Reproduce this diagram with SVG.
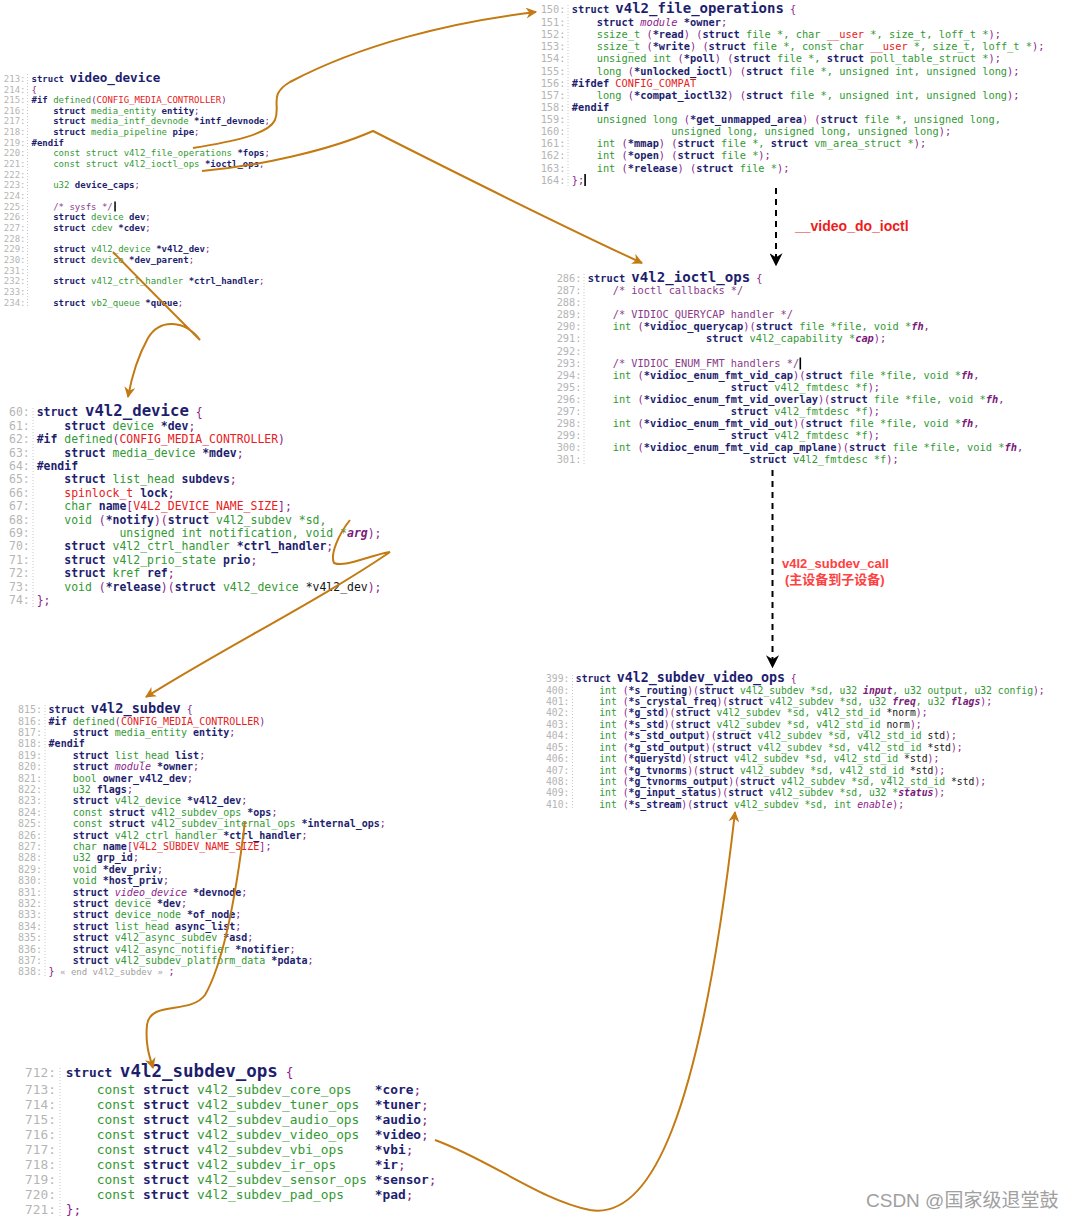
<svg xmlns="http://www.w3.org/2000/svg" width="1072" height="1219" viewBox="0 0 1072 1219">
<style>
text{font-family:"DejaVu Sans Mono",monospace}
.code{fill:#1e1e6e;font-weight:bold}
.ln{fill:#b5b5b5;font-weight:normal;text-anchor:end}
.g{fill:#339933;font-weight:normal}
.p{fill:#8b1d8b;font-weight:normal}
.c{fill:#8b3a8b;font-weight:normal}
.r{fill:#e8201c;font-weight:normal}
.i{fill:#8b1d8b;font-style:italic;font-weight:normal}
.ib{fill:#7a1a7a;font-style:italic;font-weight:bold}
.n{fill:#151515;font-weight:normal}
.x{fill:#a0a0a0;font-weight:normal;font-size:9px}
.f1{font-size:9px}.f2{font-size:10.34px}.f3{font-size:10.33px}.f4{font-size:11.46px}.f5{font-size:10px}.f6{font-size:9.74px}.f7{font-size:12.84px}
.vl{stroke:#c8c8c8;stroke-width:1;stroke-dasharray:1,2}
.conn{fill:none;stroke:#c47a12;stroke-width:2}
.dash{fill:none;stroke:#000;stroke-width:2;stroke-dasharray:6,5}
.lbl{font-family:"Liberation Sans","Noto Sans CJK SC",sans-serif;font-weight:bold}
.cur{fill:#000}
</style>
<defs>
<marker id="ao" viewBox="0 0 10 10" refX="9" refY="5" markerWidth="11" markerHeight="11" markerUnits="userSpaceOnUse" orient="auto"><path d="M0,0 L10,5 L0,10 L3,5z" fill="#c47a12"/></marker>
<marker id="ab" viewBox="0 0 10 10" refX="9" refY="5" markerWidth="13" markerHeight="13" markerUnits="userSpaceOnUse" orient="auto"><path d="M0,0 L10,5 L0,10 L3,5z" fill="#000"/></marker>
</defs>
<rect width="1072" height="1219" fill="#fff"/>

<g id="video_device">
<line class="vl" x1="27.5" y1="74" x2="27.5" y2="308"/>
<text class="ln f1"><tspan x="25.5" y="81.5">213:</tspan><tspan x="25.5" y="92.5">214:</tspan><tspan x="25.5" y="103.15">215:</tspan><tspan x="25.5" y="113.8">216:</tspan><tspan x="25.5" y="124.45">217:</tspan><tspan x="25.5" y="135.1">218:</tspan><tspan x="25.5" y="145.75">219:</tspan><tspan x="25.5" y="156.4">220:</tspan><tspan x="25.5" y="167.05">221:</tspan><tspan x="25.5" y="177.7">222:</tspan><tspan x="25.5" y="188.35">223:</tspan><tspan x="25.5" y="199">224:</tspan><tspan x="25.5" y="209.65">225:</tspan><tspan x="25.5" y="220.3">226:</tspan><tspan x="25.5" y="230.95">227:</tspan><tspan x="25.5" y="241.6">228:</tspan><tspan x="25.5" y="252.25">229:</tspan><tspan x="25.5" y="262.9">230:</tspan><tspan x="25.5" y="273.55">231:</tspan><tspan x="25.5" y="284.2">232:</tspan><tspan x="25.5" y="294.85">233:</tspan><tspan x="25.5" y="305.5">234:</tspan></text>
<g class="code f1">
<text x="31.5" y="81.5" xml:space="preserve">struct <tspan style="font-size:12.6px">video_device</tspan></text>
<text x="31.5" y="92.5" xml:space="preserve"><tspan class="p">{</tspan></text>
<text x="31.5" y="103.15" xml:space="preserve">#if <tspan class="g">defined</tspan><tspan class="p">(</tspan><tspan class="r">CONFIG_MEDIA_CONTROLLER</tspan><tspan class="p">)</tspan></text>
<text x="31.5" y="113.8" xml:space="preserve">    struct <tspan class="g">media_entity</tspan> entity<tspan class="p">;</tspan></text>
<text x="31.5" y="124.45" xml:space="preserve">    struct <tspan class="g">media_intf_devnode</tspan> *intf_devnode<tspan class="p">;</tspan></text>
<text x="31.5" y="135.1" xml:space="preserve">    struct <tspan class="g">media_pipeline</tspan> pipe<tspan class="p">;</tspan></text>
<text x="31.5" y="145.75" xml:space="preserve">#endif</text>
<text x="31.5" y="156.4" xml:space="preserve">    <tspan class="g">const struct v4l2_file_operations</tspan> *fops<tspan class="p">;</tspan></text>
<text x="31.5" y="167.05" xml:space="preserve">    <tspan class="g">const struct v4l2_ioctl_ops</tspan> *ioctl_ops<tspan class="p">;</tspan></text>
<text x="31.5" y="188.35" xml:space="preserve">    <tspan class="g">u32</tspan> device_caps<tspan class="p">;</tspan></text>
<text x="31.5" y="209.65" xml:space="preserve">    <tspan class="c">/* sysfs */</tspan></text>
<text x="31.5" y="220.3" xml:space="preserve">    struct <tspan class="g">device</tspan> dev<tspan class="p">;</tspan></text>
<text x="31.5" y="230.95" xml:space="preserve">    struct <tspan class="g">cdev</tspan> *cdev<tspan class="p">;</tspan></text>
<text x="31.5" y="252.25" xml:space="preserve">    struct <tspan class="g">v4l2_device</tspan> *v4l2_dev<tspan class="p">;</tspan></text>
<text x="31.5" y="262.9" xml:space="preserve">    struct <tspan class="g">device</tspan> *dev_parent<tspan class="p">;</tspan></text>
<text x="31.5" y="284.2" xml:space="preserve">    struct <tspan class="g">v4l2_ctrl_handler</tspan> *ctrl_handler<tspan class="p">;</tspan></text>
<text x="31.5" y="305.5" xml:space="preserve">    struct <tspan class="g">vb2_queue</tspan> *queue<tspan class="p">;</tspan></text>
</g>
<rect class="cur" x="114.3" y="201.5" width="1.5" height="10"/>
</g>

<g id="v4l2_file_operations">
<line class="vl" x1="568" y1="5" x2="568" y2="186"/>
<text class="ln f2"><tspan x="565.5" y="12.5">150:</tspan><tspan x="565.5" y="26">151:</tspan><tspan x="565.5" y="38.13">152:</tspan><tspan x="565.5" y="50.26">153:</tspan><tspan x="565.5" y="62.39">154:</tspan><tspan x="565.5" y="74.52">155:</tspan><tspan x="565.5" y="86.65">156:</tspan><tspan x="565.5" y="98.78">157:</tspan><tspan x="565.5" y="110.91">158:</tspan><tspan x="565.5" y="123.04">159:</tspan><tspan x="565.5" y="135.17">160:</tspan><tspan x="565.5" y="147.3">161:</tspan><tspan x="565.5" y="159.43">162:</tspan><tspan x="565.5" y="171.56">163:</tspan><tspan x="565.5" y="183.69">164:</tspan></text>
<g class="code f2">
<text x="571.8" y="12.5" xml:space="preserve">struct <tspan style="font-size:14px">v4l2_file_operations</tspan><tspan class="p"> {</tspan></text>
<text x="571.8" y="26" xml:space="preserve">    struct <tspan class="i">module</tspan> *owner<tspan class="p">;</tspan></text>
<text x="571.8" y="38.13" xml:space="preserve">    <tspan class="g">ssize_t </tspan><tspan class="p">(</tspan>*read<tspan class="p">) (</tspan>struct<tspan class="g"> file *, char </tspan><tspan class="r">__user</tspan><tspan class="g"> *, size_t, loff_t *</tspan><tspan class="p">);</tspan></text>
<text x="571.8" y="50.26" xml:space="preserve">    <tspan class="g">ssize_t </tspan><tspan class="p">(</tspan>*write<tspan class="p">) (</tspan>struct<tspan class="g"> file *, const char </tspan><tspan class="r">__user</tspan><tspan class="g"> *, size_t, loff_t *</tspan><tspan class="p">);</tspan></text>
<text x="571.8" y="62.39" xml:space="preserve">    <tspan class="g">unsigned int </tspan><tspan class="p">(</tspan>*poll<tspan class="p">) (</tspan>struct<tspan class="g"> file *, </tspan>struct<tspan class="g"> poll_table_struct *</tspan><tspan class="p">);</tspan></text>
<text x="571.8" y="74.52" xml:space="preserve">    <tspan class="g">long </tspan><tspan class="p">(</tspan>*unlocked_ioctl<tspan class="p">) (</tspan>struct<tspan class="g"> file *, unsigned int, unsigned long</tspan><tspan class="p">);</tspan></text>
<text x="571.8" y="86.65" xml:space="preserve">#ifdef <tspan class="r">CONFIG_COMPAT</tspan></text>
<text x="571.8" y="98.78" xml:space="preserve">    <tspan class="g">long </tspan><tspan class="p">(</tspan>*compat_ioctl32<tspan class="p">) (</tspan>struct<tspan class="g"> file *, unsigned int, unsigned long</tspan><tspan class="p">);</tspan></text>
<text x="571.8" y="110.91" xml:space="preserve">#endif</text>
<text x="571.8" y="123.04" xml:space="preserve">    <tspan class="g">unsigned long </tspan><tspan class="p">(</tspan>*get_unmapped_area<tspan class="p">) (</tspan>struct<tspan class="g"> file *, unsigned long,</tspan></text>
<text x="571.8" y="135.17" xml:space="preserve"><tspan class="g">                unsigned long, unsigned long, unsigned long</tspan><tspan class="p">);</tspan></text>
<text x="571.8" y="147.3" xml:space="preserve">    <tspan class="g">int </tspan><tspan class="p">(</tspan>*mmap<tspan class="p">) (</tspan>struct<tspan class="g"> file *, </tspan>struct<tspan class="g"> vm_area_struct *</tspan><tspan class="p">);</tspan></text>
<text x="571.8" y="159.43" xml:space="preserve">    <tspan class="g">int </tspan><tspan class="p">(</tspan>*open<tspan class="p">) (</tspan>struct<tspan class="g"> file *</tspan><tspan class="p">);</tspan></text>
<text x="571.8" y="171.56" xml:space="preserve">    <tspan class="g">int </tspan><tspan class="p">(</tspan>*release<tspan class="p">) (</tspan>struct<tspan class="g"> file *</tspan><tspan class="p">);</tspan></text>
<text x="571.8" y="183.69" xml:space="preserve"><tspan class="p">};</tspan></text>
</g>
<rect class="cur" x="584.3" y="174" width="1.6" height="12"/>
</g>

<g id="v4l2_ioctl_ops">
<line class="vl" x1="584" y1="274" x2="584" y2="465"/>
<text class="ln f3"><tspan x="581.5" y="281.5">286:</tspan><tspan x="581.5" y="294.4">287:</tspan><tspan x="581.5" y="306.42">288:</tspan><tspan x="581.5" y="318.44">289:</tspan><tspan x="581.5" y="330.46">290:</tspan><tspan x="581.5" y="342.48">291:</tspan><tspan x="581.5" y="354.5">292:</tspan><tspan x="581.5" y="366.52">293:</tspan><tspan x="581.5" y="378.54">294:</tspan><tspan x="581.5" y="390.56">295:</tspan><tspan x="581.5" y="402.58">296:</tspan><tspan x="581.5" y="414.6">297:</tspan><tspan x="581.5" y="426.62">298:</tspan><tspan x="581.5" y="438.64">299:</tspan><tspan x="581.5" y="450.66">300:</tspan><tspan x="581.5" y="462.68">301:</tspan></text>
<g class="code f3">
<text x="587.8" y="281.5" xml:space="preserve">struct <tspan style="font-size:14.1px">v4l2_ioctl_ops</tspan><tspan class="p"> {</tspan></text>
<text x="587.8" y="294.4" xml:space="preserve">    <tspan class="c">/* ioctl callbacks */</tspan></text>
<text x="587.8" y="318.44" xml:space="preserve">    <tspan class="c">/* VIDIOC_QUERYCAP handler */</tspan></text>
<text x="587.8" y="330.46" xml:space="preserve">    <tspan class="g">int </tspan><tspan class="p">(</tspan>*vidioc_querycap<tspan class="p">)(</tspan>struct<tspan class="g"> file *file, void *</tspan><tspan class="ib">fh</tspan><tspan class="p">,</tspan></text>
<text x="587.8" y="342.48" xml:space="preserve">                   struct<tspan class="g"> v4l2_capability *</tspan><tspan class="ib">cap</tspan><tspan class="p">);</tspan></text>
<text x="587.8" y="366.52" xml:space="preserve">    <tspan class="c">/* VIDIOC_ENUM_FMT handlers */</tspan></text>
<text x="587.8" y="378.54" xml:space="preserve">    <tspan class="g">int </tspan><tspan class="p">(</tspan>*vidioc_enum_fmt_vid_cap<tspan class="p">)(</tspan>struct<tspan class="g"> file *file, void *</tspan><tspan class="ib">fh</tspan><tspan class="p">,</tspan></text>
<text x="587.8" y="390.56" xml:space="preserve">                       struct<tspan class="g"> v4l2_fmtdesc *f</tspan><tspan class="p">);</tspan></text>
<text x="587.8" y="402.58" xml:space="preserve">    <tspan class="g">int </tspan><tspan class="p">(</tspan>*vidioc_enum_fmt_vid_overlay<tspan class="p">)(</tspan>struct<tspan class="g"> file *file, void *</tspan><tspan class="ib">fh</tspan><tspan class="p">,</tspan></text>
<text x="587.8" y="414.6" xml:space="preserve">                       struct<tspan class="g"> v4l2_fmtdesc *f</tspan><tspan class="p">);</tspan></text>
<text x="587.8" y="426.62" xml:space="preserve">    <tspan class="g">int </tspan><tspan class="p">(</tspan>*vidioc_enum_fmt_vid_out<tspan class="p">)(</tspan>struct<tspan class="g"> file *file, void *</tspan><tspan class="ib">fh</tspan><tspan class="p">,</tspan></text>
<text x="587.8" y="438.64" xml:space="preserve">                       struct<tspan class="g"> v4l2_fmtdesc *f</tspan><tspan class="p">);</tspan></text>
<text x="587.8" y="450.66" xml:space="preserve">    <tspan class="g">int </tspan><tspan class="p">(</tspan>*vidioc_enum_fmt_vid_cap_mplane<tspan class="p">)(</tspan>struct<tspan class="g"> file *file, void *</tspan><tspan class="ib">fh</tspan><tspan class="p">,</tspan></text>
<text x="587.8" y="462.68" xml:space="preserve">                          struct<tspan class="g"> v4l2_fmtdesc *f</tspan><tspan class="p">);</tspan></text>
</g>
<rect class="cur" x="799.5" y="357.5" width="1.6" height="12"/>
</g>

<g id="v4l2_device">
<line class="vl" x1="33" y1="408" x2="33" y2="607"/>
<text class="ln f4"><tspan x="29.7" y="415.5">60:</tspan><tspan x="29.7" y="429.8">61:</tspan><tspan x="29.7" y="443.21">62:</tspan><tspan x="29.7" y="456.62">63:</tspan><tspan x="29.7" y="470.03">64:</tspan><tspan x="29.7" y="483.44">65:</tspan><tspan x="29.7" y="496.85">66:</tspan><tspan x="29.7" y="510.26">67:</tspan><tspan x="29.7" y="523.67">68:</tspan><tspan x="29.7" y="537.08">69:</tspan><tspan x="29.7" y="550.49">70:</tspan><tspan x="29.7" y="563.9">71:</tspan><tspan x="29.7" y="577.31">72:</tspan><tspan x="29.7" y="590.72">73:</tspan><tspan x="29.7" y="604.13">74:</tspan></text>
<g class="code f4">
<text x="36.7" y="415.5" xml:space="preserve">struct <tspan style="font-size:15.7px">v4l2_device</tspan><tspan class="p"> {</tspan></text>
<text x="36.7" y="429.8" xml:space="preserve">    struct <tspan class="g">device</tspan> *dev<tspan class="p">;</tspan></text>
<text x="36.7" y="443.21" xml:space="preserve">#if <tspan class="g">defined</tspan><tspan class="p">(</tspan><tspan class="r">CONFIG_MEDIA_CONTROLLER</tspan><tspan class="p">)</tspan></text>
<text x="36.7" y="456.62" xml:space="preserve">    struct <tspan class="g">media_device</tspan> *mdev<tspan class="p">;</tspan></text>
<text x="36.7" y="470.03" xml:space="preserve">#endif</text>
<text x="36.7" y="483.44" xml:space="preserve">    struct <tspan class="g">list_head</tspan> subdevs<tspan class="p">;</tspan></text>
<text x="36.7" y="496.85" xml:space="preserve">    <tspan class="r">spinlock_t</tspan> lock<tspan class="p">;</tspan></text>
<text x="36.7" y="510.26" xml:space="preserve">    <tspan class="g">char</tspan> name<tspan class="p">[</tspan><tspan class="r">V4L2_DEVICE_NAME_SIZE</tspan><tspan class="p">];</tspan></text>
<text x="36.7" y="523.67" xml:space="preserve">    <tspan class="g">void </tspan><tspan class="p">(</tspan>*notify<tspan class="p">)(</tspan>struct<tspan class="g"> v4l2_subdev *sd,</tspan></text>
<text x="36.7" y="537.08" xml:space="preserve"><tspan class="g">            unsigned int notification, void *</tspan><tspan class="ib">arg</tspan><tspan class="p">);</tspan></text>
<text x="36.7" y="550.49" xml:space="preserve">    struct <tspan class="g">v4l2_ctrl_handler</tspan> *ctrl_handler<tspan class="p">;</tspan></text>
<text x="36.7" y="563.9" xml:space="preserve">    struct <tspan class="g">v4l2_prio_state</tspan> prio<tspan class="p">;</tspan></text>
<text x="36.7" y="577.31" xml:space="preserve">    struct <tspan class="g">kref</tspan> ref<tspan class="p">;</tspan></text>
<text x="36.7" y="590.72" xml:space="preserve">    <tspan class="g">void </tspan><tspan class="p">(</tspan>*release<tspan class="p">)(</tspan>struct<tspan class="g"> v4l2_device </tspan><tspan class="n">*v4l2_dev</tspan><tspan class="p">);</tspan></text>
<text x="36.7" y="604.13" xml:space="preserve"><tspan class="p">};</tspan></text>
</g>
</g>

<g id="v4l2_subdev">
<line class="vl" x1="45" y1="705" x2="45" y2="978"/>
<text class="ln f5"><tspan x="42" y="713">815:</tspan><tspan x="42" y="724.6">816:</tspan><tspan x="42" y="736">817:</tspan><tspan x="42" y="747.4">818:</tspan><tspan x="42" y="758.8">819:</tspan><tspan x="42" y="770.2">820:</tspan><tspan x="42" y="781.6">821:</tspan><tspan x="42" y="793">822:</tspan><tspan x="42" y="804.4">823:</tspan><tspan x="42" y="815.8">824:</tspan><tspan x="42" y="827.2">825:</tspan><tspan x="42" y="838.6">826:</tspan><tspan x="42" y="850">827:</tspan><tspan x="42" y="861.4">828:</tspan><tspan x="42" y="872.8">829:</tspan><tspan x="42" y="884.2">830:</tspan><tspan x="42" y="895.6">831:</tspan><tspan x="42" y="907">832:</tspan><tspan x="42" y="918.4">833:</tspan><tspan x="42" y="929.8">834:</tspan><tspan x="42" y="941.2">835:</tspan><tspan x="42" y="952.6">836:</tspan><tspan x="42" y="964">837:</tspan><tspan x="42" y="975.4">838:</tspan></text>
<g class="code f5">
<text x="48.6" y="713" xml:space="preserve">struct <tspan style="font-size:13.6px">v4l2_subdev</tspan><tspan class="p"> {</tspan></text>
<text x="48.6" y="724.6" xml:space="preserve">#if <tspan class="g">defined</tspan><tspan class="p">(</tspan><tspan class="r">CONFIG_MEDIA_CONTROLLER</tspan><tspan class="p">)</tspan></text>
<text x="48.6" y="736" xml:space="preserve">    struct <tspan class="g">media_entity</tspan> entity<tspan class="p">;</tspan></text>
<text x="48.6" y="747.4" xml:space="preserve">#endif</text>
<text x="48.6" y="758.8" xml:space="preserve">    struct <tspan class="g">list_head</tspan> list<tspan class="p">;</tspan></text>
<text x="48.6" y="770.2" xml:space="preserve">    struct <tspan class="i">module</tspan> *owner<tspan class="p">;</tspan></text>
<text x="48.6" y="781.6" xml:space="preserve">    <tspan class="g">bool</tspan> owner_v4l2_dev<tspan class="p">;</tspan></text>
<text x="48.6" y="793" xml:space="preserve">    <tspan class="g">u32</tspan> flags<tspan class="p">;</tspan></text>
<text x="48.6" y="804.4" xml:space="preserve">    struct <tspan class="g">v4l2_device</tspan> *v4l2_dev<tspan class="p">;</tspan></text>
<text x="48.6" y="815.8" xml:space="preserve">    <tspan class="g">const</tspan> struct <tspan class="g">v4l2_subdev_ops</tspan> *ops<tspan class="p">;</tspan></text>
<text x="48.6" y="827.2" xml:space="preserve">    <tspan class="g">const</tspan> struct <tspan class="g">v4l2_subdev_internal_ops</tspan> *internal_ops<tspan class="p">;</tspan></text>
<text x="48.6" y="838.6" xml:space="preserve">    struct <tspan class="g">v4l2_ctrl_handler</tspan> *ctrl_handler<tspan class="p">;</tspan></text>
<text x="48.6" y="850" xml:space="preserve">    <tspan class="g">char</tspan> name<tspan class="p">[</tspan><tspan class="r">V4L2_SUBDEV_NAME_SIZE</tspan><tspan class="p">];</tspan></text>
<text x="48.6" y="861.4" xml:space="preserve">    <tspan class="g">u32</tspan> grp_id<tspan class="p">;</tspan></text>
<text x="48.6" y="872.8" xml:space="preserve">    <tspan class="g">void</tspan> *dev_priv<tspan class="p">;</tspan></text>
<text x="48.6" y="884.2" xml:space="preserve">    <tspan class="g">void</tspan> *host_priv<tspan class="p">;</tspan></text>
<text x="48.6" y="895.6" xml:space="preserve">    struct <tspan class="i">video_device</tspan> *devnode<tspan class="p">;</tspan></text>
<text x="48.6" y="907" xml:space="preserve">    struct <tspan class="g">device</tspan> *dev<tspan class="p">;</tspan></text>
<text x="48.6" y="918.4" xml:space="preserve">    struct <tspan class="g">device_node</tspan> *of_node<tspan class="p">;</tspan></text>
<text x="48.6" y="929.8" xml:space="preserve">    struct <tspan class="g">list_head</tspan> async_list<tspan class="p">;</tspan></text>
<text x="48.6" y="941.2" xml:space="preserve">    struct <tspan class="g">v4l2_async_subdev</tspan> *asd<tspan class="p">;</tspan></text>
<text x="48.6" y="952.6" xml:space="preserve">    struct <tspan class="g">v4l2_async_notifier</tspan> *notifier<tspan class="p">;</tspan></text>
<text x="48.6" y="964" xml:space="preserve">    struct <tspan class="g">v4l2_subdev_platform_data</tspan> *pdata<tspan class="p">;</tspan></text>
<text x="48.6" y="975.4" xml:space="preserve"><tspan class="p">}</tspan><tspan class="x"> « end v4l2_subdev » </tspan><tspan class="p">;</tspan></text>
</g>
</g>

<g id="v4l2_subdev_video_ops">
<line class="vl" x1="572.5" y1="675" x2="572.5" y2="810"/>
<text class="ln f6"><tspan x="569.4" y="682">399:</tspan><tspan x="569.4" y="693.5">400:</tspan><tspan x="569.4" y="704.93">401:</tspan><tspan x="569.4" y="716.36">402:</tspan><tspan x="569.4" y="727.79">403:</tspan><tspan x="569.4" y="739.22">404:</tspan><tspan x="569.4" y="750.65">405:</tspan><tspan x="569.4" y="762.08">406:</tspan><tspan x="569.4" y="773.51">407:</tspan><tspan x="569.4" y="784.94">408:</tspan><tspan x="569.4" y="796.37">409:</tspan><tspan x="569.4" y="807.8">410:</tspan></text>
<g class="code f6">
<text x="575.8" y="682" xml:space="preserve">struct <tspan style="font-size:13.3px">v4l2_subdev_video_ops</tspan><tspan class="p"> {</tspan></text>
<text x="575.8" y="693.5" xml:space="preserve">    <tspan class="g">int </tspan><tspan class="p">(</tspan>*s_routing<tspan class="p">)(</tspan>struct<tspan class="g"> v4l2_subdev *sd, u32 </tspan><tspan class="ib">input</tspan><tspan class="g">, u32 output, u32 config</tspan><tspan class="p">);</tspan></text>
<text x="575.8" y="704.93" xml:space="preserve">    <tspan class="g">int </tspan><tspan class="p">(</tspan>*s_crystal_freq<tspan class="p">)(</tspan>struct<tspan class="g"> v4l2_subdev *sd, u32 </tspan><tspan class="ib">freq</tspan><tspan class="g">, u32 </tspan><tspan class="ib">flags</tspan><tspan class="p">);</tspan></text>
<text x="575.8" y="716.36" xml:space="preserve">    <tspan class="g">int </tspan><tspan class="p">(</tspan>*g_std<tspan class="p">)(</tspan>struct<tspan class="g"> v4l2_subdev *sd, v4l2_std_id </tspan><tspan class="n">*norm</tspan><tspan class="p">);</tspan></text>
<text x="575.8" y="727.79" xml:space="preserve">    <tspan class="g">int </tspan><tspan class="p">(</tspan>*s_std<tspan class="p">)(</tspan>struct<tspan class="g"> v4l2_subdev *sd, v4l2_std_id </tspan><tspan class="n">norm</tspan><tspan class="p">);</tspan></text>
<text x="575.8" y="739.22" xml:space="preserve">    <tspan class="g">int </tspan><tspan class="p">(</tspan>*s_std_output<tspan class="p">)(</tspan>struct<tspan class="g"> v4l2_subdev *sd, v4l2_std_id </tspan><tspan class="n">std</tspan><tspan class="p">);</tspan></text>
<text x="575.8" y="750.65" xml:space="preserve">    <tspan class="g">int </tspan><tspan class="p">(</tspan>*g_std_output<tspan class="p">)(</tspan>struct<tspan class="g"> v4l2_subdev *sd, v4l2_std_id </tspan><tspan class="n">*std</tspan><tspan class="p">);</tspan></text>
<text x="575.8" y="762.08" xml:space="preserve">    <tspan class="g">int </tspan><tspan class="p">(</tspan>*querystd<tspan class="p">)(</tspan>struct<tspan class="g"> v4l2_subdev *sd, v4l2_std_id </tspan><tspan class="n">*std</tspan><tspan class="p">);</tspan></text>
<text x="575.8" y="773.51" xml:space="preserve">    <tspan class="g">int </tspan><tspan class="p">(</tspan>*g_tvnorms<tspan class="p">)(</tspan>struct<tspan class="g"> v4l2_subdev *sd, v4l2_std_id </tspan><tspan class="n">*std</tspan><tspan class="p">);</tspan></text>
<text x="575.8" y="784.94" xml:space="preserve">    <tspan class="g">int </tspan><tspan class="p">(</tspan>*g_tvnorms_output<tspan class="p">)(</tspan>struct<tspan class="g"> v4l2_subdev *sd, v4l2_std_id </tspan><tspan class="n">*std</tspan><tspan class="p">);</tspan></text>
<text x="575.8" y="796.37" xml:space="preserve">    <tspan class="g">int </tspan><tspan class="p">(</tspan>*g_input_status<tspan class="p">)(</tspan>struct<tspan class="g"> v4l2_subdev *sd, u32 *</tspan><tspan class="ib">status</tspan><tspan class="p">);</tspan></text>
<text x="575.8" y="807.8" xml:space="preserve">    <tspan class="g">int </tspan><tspan class="p">(</tspan>*s_stream<tspan class="p">)(</tspan>struct<tspan class="g"> v4l2_subdev *sd, int </tspan><tspan class="i">enable</tspan><tspan class="p">);</tspan></text>
</g>
</g>

<g id="v4l2_subdev_ops">
<line class="vl" x1="60" y1="1068" x2="60" y2="1216"/>
<text class="ln f7"><tspan x="55.9" y="1077">712:</tspan><tspan x="55.9" y="1093.6">713:</tspan><tspan x="55.9" y="1108.6">714:</tspan><tspan x="55.9" y="1123.6">715:</tspan><tspan x="55.9" y="1138.6">716:</tspan><tspan x="55.9" y="1153.6">717:</tspan><tspan x="55.9" y="1168.6">718:</tspan><tspan x="55.9" y="1183.6">719:</tspan><tspan x="55.9" y="1198.6">720:</tspan><tspan x="55.9" y="1213.6">721:</tspan></text>
<g class="code f7">
<text x="65.8" y="1077" xml:space="preserve">struct <tspan style="font-size:17.5px">v4l2_subdev_ops</tspan><tspan class="p"> {</tspan></text>
<text x="65.8" y="1093.6" xml:space="preserve">    <tspan class="g">const </tspan>struct<tspan class="g"> v4l2_subdev_core_ops   </tspan>*core<tspan class="p">;</tspan></text>
<text x="65.8" y="1108.6" xml:space="preserve">    <tspan class="g">const </tspan>struct<tspan class="g"> v4l2_subdev_tuner_ops  </tspan>*tuner<tspan class="p">;</tspan></text>
<text x="65.8" y="1123.6" xml:space="preserve">    <tspan class="g">const </tspan>struct<tspan class="g"> v4l2_subdev_audio_ops  </tspan>*audio<tspan class="p">;</tspan></text>
<text x="65.8" y="1138.6" xml:space="preserve">    <tspan class="g">const </tspan>struct<tspan class="g"> v4l2_subdev_video_ops  </tspan>*video<tspan class="p">;</tspan></text>
<text x="65.8" y="1153.6" xml:space="preserve">    <tspan class="g">const </tspan>struct<tspan class="g"> v4l2_subdev_vbi_ops    </tspan>*vbi<tspan class="p">;</tspan></text>
<text x="65.8" y="1168.6" xml:space="preserve">    <tspan class="g">const </tspan>struct<tspan class="g"> v4l2_subdev_ir_ops     </tspan>*ir<tspan class="p">;</tspan></text>
<text x="65.8" y="1183.6" xml:space="preserve">    <tspan class="g">const </tspan>struct<tspan class="g"> v4l2_subdev_sensor_ops </tspan>*sensor<tspan class="p">;</tspan></text>
<text x="65.8" y="1198.6" xml:space="preserve">    <tspan class="g">const </tspan>struct<tspan class="g"> v4l2_subdev_pad_ops    </tspan>*pad<tspan class="p">;</tspan></text>
<text x="65.8" y="1213.6" xml:space="preserve"><tspan class="p">};</tspan></text>
</g>
</g>

<g id="connectors">
<path class="conn" d="M193,148 C230,142 268,135 275,120 C281,105 268,95 290,82 C360,45 450,22 536,12" marker-end="url(#ao)"/>
<path class="conn" d="M202,171 C260,166 330,150 373,131 C460,175 560,225 642,263" marker-end="url(#ao)"/>
<path class="conn" d="M113,252 C140,280 175,315 200,340 C185,320 160,318 148,338 C138,356 132,375 128,397" marker-end="url(#ao)"/>
<path class="conn" d="M350,520 C338,535 330,555 334,563 C345,568 370,555 390,552 C320,600 220,650 146,697" marker-end="url(#ao)"/>
<path class="conn" d="M245,821 C238,880 225,960 205,995 C190,1015 150,1000 147,1025 C145,1045 150,1058 153,1068" marker-end="url(#ao)"/>
<path class="conn" d="M435,1140 C490,1160 540,1200 590,1210 C650,1220 700,1120 735,812" marker-end="url(#ao)"/>
<path class="dash" d="M776,188 L776,265" marker-end="url(#ab)"/>
<path class="dash" d="M772.5,470 L772.5,667" marker-end="url(#ab)"/>
</g>

<g id="labels">
<text class="lbl" x="795" y="231" font-size="14" fill="#ee1c1c">__video_do_ioctl</text>
<text class="lbl" x="782" y="567.5" font-size="13" fill="#ff4040">v4l2_subdev_call</text>
<text class="lbl" x="785" y="584" font-size="13" fill="#ff4040">(主设备到子设备)</text>
<text class="lbl" x="866" y="1207" font-size="19" fill="#a0a0a0" style="font-weight:normal">CSDN @国家级退堂鼓</text>
</g>
</svg>
